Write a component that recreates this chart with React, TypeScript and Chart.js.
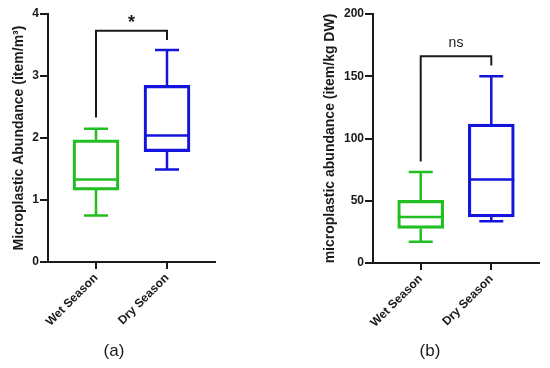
import React, { useEffect, useRef } from "react";
import { Chart, registerables } from "chart.js";
Chart.register(...registerables);

const categories = ["Wet Season", "Dry Season"];
const boxColors = ["#22bf22", "#1414dc"];

// Panel (a): item/m3
const aMin = [0.75, 1.49];
const aQ1 = [1.16, 1.78];
const aMedian = [1.33, 2.04];
const aQ3 = [1.97, 2.85];
const aMax = [2.15, 3.42];
const aBracket = [2.33, 3.73, 3.58]; // left foot, top, right foot
const aSig = "*";
const aTitle = "Microplastic Abundance (item/m³)";

// Panel (b): item/kg DW
const bMin = [17, 33.5];
const bQ1 = [27.8, 37];
const bMedian = [37, 67];
const bQ3 = [50.3, 111.6];
const bMax = [73, 150];
const bBracket = [81.6, 166, 158.7];
const bSig = "ns";
const bTitle = "microplastic abundance (item/kg DW)";

const FONT = "'Liberation Sans', Arial, sans-serif";

type Panel = {
  min: number[]; q1: number[]; median: number[]; q3: number[]; max: number[];
  bracket: number[]; sig: string; sigFont: string; sigGap: number;
  title: string; yMax: number; yStep: number;
  axisWidth: number; titlePad: number; padRight: number; bottom: number;
};

function boxPlugin(p: Panel) {
  return {
    id: "boxExtras",
    afterDatasetsDraw(chart: any) {
      const { ctx } = chart;
      const x = chart.scales.x;
      const y = chart.scales.y;
      ctx.save();
      ctx.lineWidth = 2.5;
      ctx.lineCap = "butt";
      categories.forEach((_, i) => {
        const cx = x.getPixelForValue(i);
        ctx.strokeStyle = boxColors[i];
        const cap = 12;
        const half = 23;
        ctx.beginPath();
        ctx.moveTo(cx, y.getPixelForValue(p.q3[i]));
        ctx.lineTo(cx, y.getPixelForValue(p.max[i]));
        ctx.moveTo(cx - cap, y.getPixelForValue(p.max[i]));
        ctx.lineTo(cx + cap, y.getPixelForValue(p.max[i]));
        ctx.moveTo(cx, y.getPixelForValue(p.q1[i]));
        ctx.lineTo(cx, y.getPixelForValue(p.min[i]));
        ctx.moveTo(cx - cap, y.getPixelForValue(p.min[i]));
        ctx.lineTo(cx + cap, y.getPixelForValue(p.min[i]));
        ctx.moveTo(cx - half, y.getPixelForValue(p.median[i]));
        ctx.lineTo(cx + half, y.getPixelForValue(p.median[i]));
        ctx.stroke();
      });
      // significance bracket
      const x0 = x.getPixelForValue(0);
      const x1 = x.getPixelForValue(1);
      const top = y.getPixelForValue(p.bracket[1]);
      ctx.strokeStyle = "#1a1a1a";
      ctx.lineWidth = 2;
      ctx.lineJoin = "miter";
      ctx.beginPath();
      ctx.moveTo(x0, y.getPixelForValue(p.bracket[0]));
      ctx.lineTo(x0, top);
      ctx.lineTo(x1, top);
      ctx.lineTo(x1, y.getPixelForValue(p.bracket[2]));
      ctx.stroke();
      ctx.fillStyle = "#1a1a1a";
      ctx.font = p.sigFont;
      ctx.textAlign = "center";
      ctx.textBaseline = "alphabetic";
      ctx.fillText(p.sig, (x0 + x1) / 2, top - p.sigGap);
      ctx.restore();
    },
  };
}

function makeConfig(p: Panel): any {
  const tickFont = { family: FONT, size: 12, weight: "bold" as const };
  return {
    type: "bar",
    data: {
      datasets: [
        {
          data: categories.map((_, i) => ({ x: i, y: [p.q1[i], p.q3[i]] })),
          backgroundColor: "rgba(0,0,0,0)",
          borderColor: boxColors,
          borderWidth: 2.5,
          borderSkipped: false,
          barThickness: 46,
        },
      ],
    },
    options: {
      animation: false,
      responsive: false,
      maintainAspectRatio: false,
      layout: { padding: { left: 0, right: p.padRight, top: 14, bottom: 0 } },
      plugins: { legend: { display: false }, tooltip: { enabled: false } },
      scales: {
        x: {
          type: "linear",
          offset: false,
          min: -0.676,
          max: 1.676,
          afterBuildTicks: (s: any) => {
            s.ticks = categories.map((_, i) => ({ value: i }));
          },
          afterFit: (s: any) => {
            s.height = p.bottom;
          },
          ticks: {
            callback: (v: any) => categories[v] ?? "",
            minRotation: 45,
            maxRotation: 45,
            font: tickFont,
            color: "#1a1a1a",
            padding: 2,
          },
          grid: {
            offset: false,
            drawOnChartArea: false,
            drawTicks: true,
            tickLength: 7,
            color: "#1a1a1a",
            lineWidth: 2,
          },
          border: { color: "#1a1a1a", width: 2 },
        },
        y: {
          min: 0,
          max: p.yMax,
          afterFit: (s: any) => {
            s.width = p.axisWidth;
          },
          ticks: {
            stepSize: p.yStep,
            font: tickFont,
            color: "#1a1a1a",
            padding: 1,
          },
          grid: {
            drawOnChartArea: false,
            drawTicks: true,
            tickLength: 8,
            color: "#1a1a1a",
            lineWidth: 2,
          },
          border: { color: "#1a1a1a", width: 2 },
          title: {
            display: true,
            text: p.title,
            font: { family: FONT, size: 14, weight: "bold" },
            color: "#1a1a1a",
            padding: { top: p.titlePad, bottom: 0 },
          },
        },
      },
    },
    plugins: [boxPlugin(p)],
  };
}

const panelA: Panel = {
  min: aMin, q1: aQ1, median: aMedian, q3: aQ3, max: aMax,
  bracket: aBracket, sig: aSig, sigFont: `bold 18px ${FONT}`, sigGap: 3,
  title: aTitle, yMax: 4, yStep: 1,
  axisWidth: 48, titlePad: 11, padRight: 60, bottom: 106,
};

const panelB: Panel = {
  min: bMin, q1: bQ1, median: bMedian, q3: bQ3, max: bMax,
  bracket: bBracket, sig: bSig, sigFont: `14px ${FONT}`, sigGap: 9,
  title: bTitle, yMax: 200, yStep: 50,
  axisWidth: 98, titlePad: 47, padRight: 11, bottom: 105,
};

function BoxChart({ panel, left }: { panel: Panel; left: number }) {
  const ref = useRef<HTMLCanvasElement>(null);
  useEffect(() => {
    if (!ref.current) return;
    const chart = new Chart(ref.current, makeConfig(panel));
    return () => chart.destroy();
  }, [panel]);
  return (
    <canvas
      ref={ref}
      width={275}
      height={368}
      style={{ position: "absolute", left, top: 0, width: 275, height: 368 }}
    />
  );
}

export default function App() {
  const labelStyle: React.CSSProperties = {
    position: "absolute",
    top: 341,
    width: 60,
    textAlign: "center",
    fontFamily: FONT,
    fontSize: 17,
    color: "#1a1a1a",
    lineHeight: "20px",
  };
  return (
    <div
      style={{
        position: "fixed",
        left: 0,
        top: 0,
        width: 550,
        height: 368,
        background: "#ffffff",
        overflow: "hidden",
      }}
    >
      <BoxChart panel={panelA} left={0} />
      <BoxChart panel={panelB} left={275} />
      <div style={{ ...labelStyle, left: 84 }}>(a)</div>
      <div style={{ ...labelStyle, left: 400 }}>(b)</div>
    </div>
  );
}
